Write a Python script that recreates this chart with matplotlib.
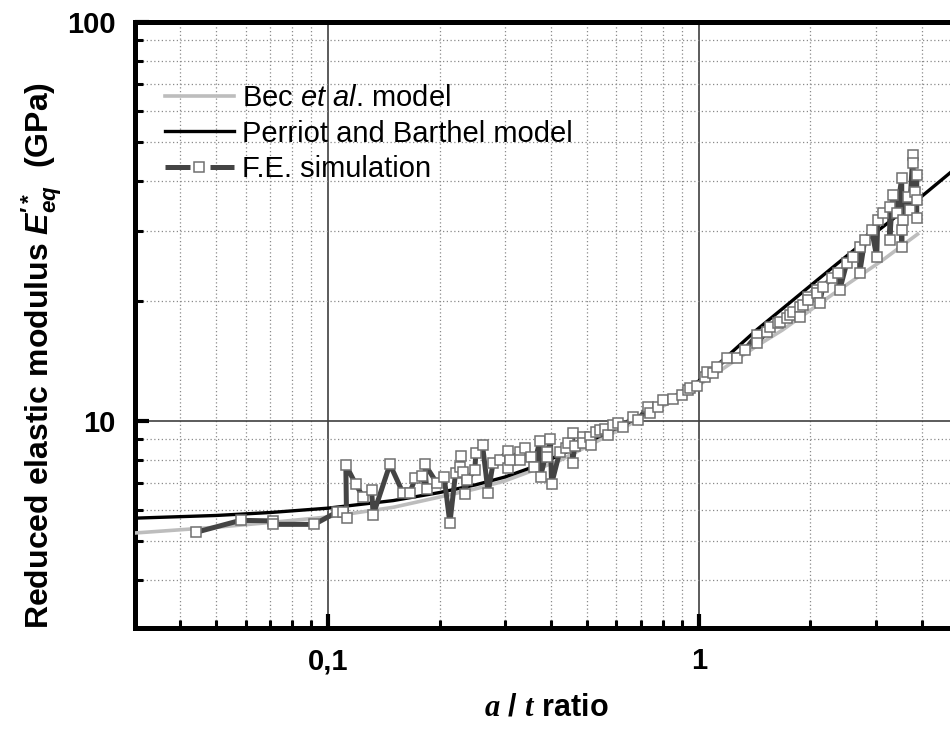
import matplotlib
matplotlib.use("Agg")
import matplotlib.pyplot as plt
from matplotlib.lines import Line2D
from matplotlib.ticker import FixedLocator, LogLocator, FuncFormatter, NullFormatter

plt.rcParams.update({
    'font.family': 'Liberation Sans',
    'mathtext.fontset': 'custom',
    'mathtext.rm': 'Liberation Sans:bold',
    'mathtext.it': 'Liberation Sans:italic',
    'mathtext.bf': 'Liberation Sans:bold:italic',
    'mathtext.cal': 'Liberation Serif:bold:italic',
})

# Bec et al. model (light grey line)
bec_x = [0.030, 0.05, 0.07, 0.10, 0.15, 0.20, 0.25, 0.30, 0.42, 0.52, 0.65, 0.83, 1.0,
         1.2, 1.43, 1.68, 2.3, 3.13, 3.89]
bec_y = [5.24, 5.42, 5.57, 5.75, 6.08, 6.45, 6.76, 7.08, 7.95, 8.8, 9.8, 11.1, 12.3,
         13.8, 15.4, 16.9, 20.8, 25.3, 29.4]

# Perriot and Barthel model (black line)
pb_x = [0.030, 0.05, 0.07, 0.10, 0.15, 0.20, 0.25, 0.30, 0.35, 0.42, 0.52, 0.65, 0.83,
        1.0, 1.2, 1.43, 1.76, 2.3, 3.0, 3.94, 5.0]
pb_y = [5.71, 5.80, 5.90, 6.05, 6.32, 6.62, 6.92, 7.24, 7.62, 8.2, 9.0, 9.95, 11.3,
        12.6, 14.6, 16.9, 19.8, 24.3, 29.7, 36.2, 43.5]

# F.E. simulation (dark dashed line + open squares)
fe_x = [0.0440, 0.0582, 0.0712, 0.0712, 0.0919, 0.106, 0.110, 0.1123, 0.1118, 0.119,
        0.1245, 0.1312, 0.1325, 0.147, 0.1596, 0.1663, 0.1723, 0.179, 0.1845, 0.1826,
        0.197, 0.2058, 0.2133, 0.2209, 0.2269, 0.2283, 0.2316, 0.234, 0.2373, 0.249,
        0.2506, 0.2612, 0.2705, 0.279, 0.2908, 0.306, 0.306, 0.3094, 0.329, 0.329,
        0.341, 0.3525, 0.359, 0.3727, 0.3744, 0.3886, 0.3886, 0.3983, 0.4009, 0.4219,
        0.438, 0.4444, 0.4567, 0.4567, 0.4632, 0.486, 0.4876, 0.5084, 0.5138, 0.530,
        0.541, 0.558, 0.5685, 0.5864, 0.605, 0.624, 0.664, 0.685, 0.729, 0.738,
        0.775, 0.800, 0.851, 0.900, 0.934, 0.946, 0.988, 1.038, 1.051, 1.091,
        1.118, 1.190, 1.266, 1.331, 1.433, 1.433, 1.525, 1.554, 1.633, 1.653,
        1.727, 1.759, 1.792, 1.872, 1.872, 1.906, 1.967, 1.967, 2.080, 2.080,
        2.120, 2.159, 2.283, 2.370, 2.399, 2.506, 2.601, 2.716, 2.716, 2.802,
        2.926, 3.019, 3.038, 3.133, 3.272, 3.272, 3.334, 3.418, 3.526, 3.526,
        3.526, 3.548, 3.659, 3.705, 3.775, 3.775, 3.822, 3.870, 3.870, 3.870]
fe_y = [5.26, 5.64, 5.62, 5.51, 5.51, 5.92, 5.92, 5.73, 7.76, 6.94,
        6.44, 6.72, 5.82, 7.79, 6.59, 6.62, 7.21, 7.28, 6.76, 7.79,
        6.98, 7.25, 5.55, 7.40, 7.68, 8.17, 7.46, 6.55, 7.11, 7.54,
        8.30, 8.71, 6.61, 7.86, 7.98, 8.43, 7.64, 7.98, 8.38, 7.98,
        8.54, 8.14, 7.68, 8.93, 7.25, 8.38, 8.14, 9.00, 6.95, 8.38,
        8.54, 8.79, 9.35, 7.86, 8.66, 9.13, 8.79, 9.13, 8.70, 9.40,
        9.49, 9.55, 9.22, 9.77, 9.88, 9.66, 10.23, 10.06, 10.84, 10.47,
        10.84, 11.29, 11.35, 11.62, 11.96, 12.10, 12.24, 12.89, 13.27, 13.19,
        13.66, 14.39, 14.39, 15.07, 16.43, 15.69, 16.71, 17.21, 17.61, 17.70,
        18.12, 18.44, 18.76, 19.31, 18.23, 19.53, 20.46, 20.11, 21.30, 20.93,
        19.75, 21.67, 22.82, 23.49, 21.30, 24.89, 25.76, 27.29, 23.49, 28.42,
        30.11, 25.76, 31.90, 33.21, 34.38, 28.42, 36.86, 33.21, 40.64, 27.29,
        30.11, 31.90, 36.43, 33.80, 46.42, 44.32, 37.50, 41.35, 35.81, 32.27]

fe_color = "#444444"
sq_edge = "#707070"

fig = plt.figure(figsize=(9.5, 7.29), dpi=100)
ax = fig.add_axes([135 / 950, 101 / 729, 823 / 950, 606 / 729])
ax.set_xscale('log')
ax.set_yscale('log')
ax.set_xlim(0.0302, 5.0)
ax.set_ylim(3.03, 100)

ax.set_axisbelow(True)
ax.grid(which='minor', ls=(0, (1, 2)), color='#8a8a8a', lw=0.9)
ax.grid(which='major', ls='-', color='#404040', lw=1.2)

ax.plot(bec_x, bec_y, color='#bdbdbd', lw=2.6, zorder=3)
ax.plot(pb_x, pb_y, color='black', lw=2.4, zorder=4)
ax.plot(fe_x, fe_y, color=fe_color, lw=3.6, marker='s', ms=7.8,
        mfc='white', mec=sq_edge, mew=1.1, zorder=5)

# axes look
for side in ['left', 'bottom', 'top']:
    ax.spines[side].set_linewidth(3.6)
ax.spines['right'].set_visible(False)

ax.xaxis.set_major_locator(FixedLocator([0.1, 1]))
ax.xaxis.set_minor_locator(LogLocator(base=10, subs=[2, 3, 4, 5, 6, 7, 8, 9]))
ax.xaxis.set_major_formatter(FuncFormatter(lambda v, p: '0,1' if v < 0.5 else '1'))
ax.xaxis.set_minor_formatter(NullFormatter())
ax.yaxis.set_major_locator(FixedLocator([10, 100]))
ax.yaxis.set_minor_locator(LogLocator(base=10, subs=[2, 3, 4, 5, 6, 7, 8, 9]))
ax.yaxis.set_major_formatter(FuncFormatter(lambda v, p: '%d' % round(v)))
ax.yaxis.set_minor_formatter(NullFormatter())

ax.tick_params(which='major', direction='in', length=10, width=3, pad=14,
               labelsize=21)
ax.tick_params(which='minor', direction='in', length=6, width=2.2)
ax.tick_params(top=False, right=False)
for lab in ax.get_xticklabels() + ax.get_yticklabels():
    lab.set_fontweight('bold')

ax.set_ylabel(r'Reduced elastic modulus $\mathbf{E}^{\prime *}_{\mathbf{eq}}$  (GPa)',
              fontsize=23, fontweight='bold')
ax.yaxis.set_label_coords(-0.086, 0.45)
ax.set_xlabel(r'$\mathcal{a}$ / $\mathcal{t}$ ratio', fontsize=22,
              fontweight='bold', labelpad=12)

handles = [
    Line2D([0], [0], color='#bdbdbd', lw=2.6),
    Line2D([0], [0], color='black', lw=2.4),
    Line2D([0], [0], color=fe_color, lw=3.6, ls=(0, (5.0, 4.0)), marker='s',
           ms=7, mfc='white', mec=sq_edge, mew=1.1),
]
labels = [r'Bec $\mathit{et\ al}$. model', 'Perriot and Barthel model',
          'F.E. simulation']
fig.legend(handles, labels, loc='upper left', bbox_to_anchor=(165 / 950, 1 - 84 / 729),
           frameon=False, fontsize=21, handlelength=2.35, handletextpad=0.3,
           labelspacing=0.26, borderpad=0, borderaxespad=0)

fig.savefig('out.png', dpi=100)
